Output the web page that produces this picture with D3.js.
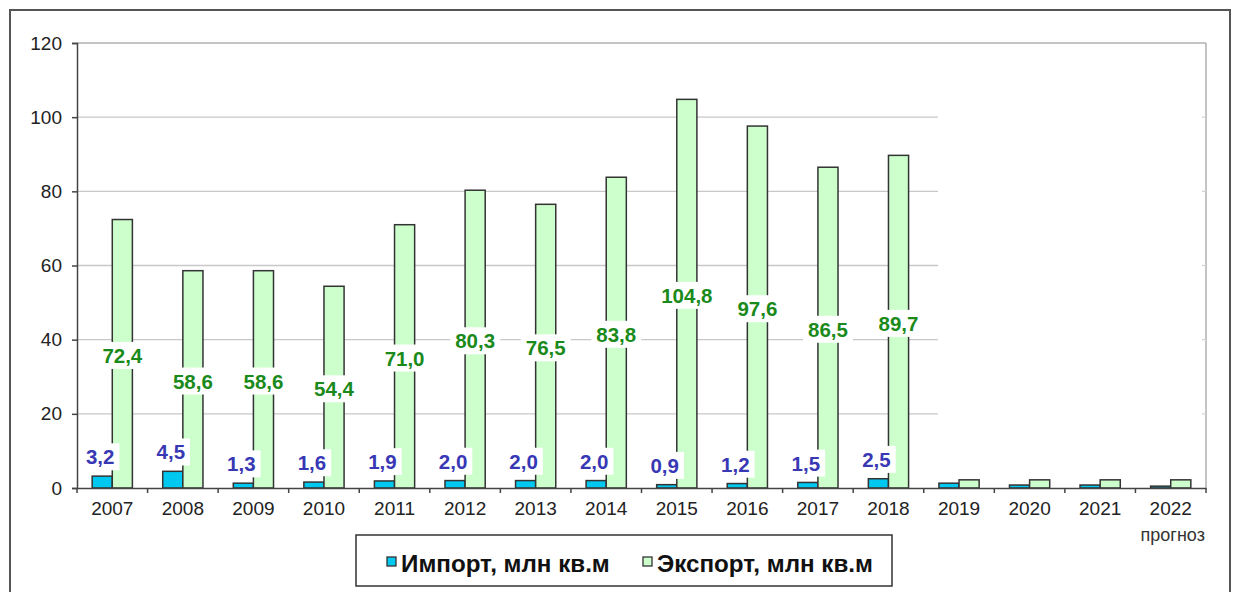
<!DOCTYPE html>
<html><head><meta charset="utf-8">
<script src="https://cdn.jsdelivr.net/npm/d3@7"></script>
<style>
body{margin:0;background:#fff;}
svg{display:block;font-family:"Liberation Sans",Arial,sans-serif;}
</style></head>
<body>
<svg id="chart" width="1237" height="592"></svg>
<script>
const categories = ["2007","2008","2009","2010","2011","2012","2013","2014","2015","2016","2017","2018","2019","2020","2021","2022"];
const importValues = [3.2,4.5,1.3,1.6,1.9,2.0,2.0,2.0,0.9,1.2,1.5,2.5,1.3,0.8,0.8,0.5];
const exportValues = [72.4,58.6,58.6,54.4,71.0,80.3,76.5,83.8,104.8,97.6,86.5,89.7,2.2,2.2,2.2,2.2];
const labelledCategories = ["2007","2008","2009","2010","2011","2012","2013","2014","2015","2016","2017","2018"];
const yTicks = [0,20,40,60,80,100,120];
const seriesNames = ["Импорт, млн кв.м","Экспорт, млн кв.м"];
const forecastNote = "прогноз";

const svg = d3.select("#chart");
const pLeft = 77, pRight = 1206, pTop = 43, pBottom = 488;

const x = d3.scaleBand().domain(categories).range([pLeft, pRight]).paddingInner(0.43).paddingOuter(0.215);
const x1 = d3.scaleBand().domain(["imp","exp"]).range([0, x.bandwidth()]);
const y = d3.scaleLinear().domain([0,120]).range([pBottom, pTop]);

// outer frame
svg.append("rect").attr("x",10).attr("y",10).attr("width",1220).attr("height",600)
  .attr("fill","none").attr("stroke","#555").attr("stroke-width",2);

// gridlines (truncated as in reference)
const gridEnd = 938;
svg.append("g").selectAll("line").data(yTicks.filter(t=>t>0 && t<120)).join("line")
  .attr("x1",pLeft).attr("x2",gridEnd).attr("y1",d=>y(d)).attr("y2",d=>y(d))
  .attr("stroke","#c8c8c8").attr("stroke-width",1.3);
svg.append("line").attr("x1",pLeft).attr("x2",pRight).attr("y1",y(120)).attr("y2",y(120))
  .attr("stroke","#b0b0b0").attr("stroke-width",1.5);
svg.append("line").attr("x1",pRight).attr("x2",pRight).attr("y1",y(120)).attr("y2",pBottom)
  .attr("stroke","#b0b0b0").attr("stroke-width",1.5);
svg.append("g").selectAll("line").data(yTicks.filter(t=>t>0 && t<120)).join("line")
  .attr("x1",pRight-4).attr("x2",pRight).attr("y1",d=>y(d)).attr("y2",d=>y(d))
  .attr("stroke","#d0d0d0").attr("stroke-width",1.2);

// bars
const g = svg.append("g");
categories.forEach((c,i)=>{
  g.append("rect").attr("x",x(c)+x1("imp")).attr("y",y(importValues[i]))
    .attr("width",x1.bandwidth()).attr("height",y(0)-y(importValues[i]))
    .attr("fill","#00c8f0").attr("stroke","#333").attr("stroke-width",1.5);
  g.append("rect").attr("x",x(c)+x1("exp")).attr("y",y(exportValues[i]))
    .attr("width",x1.bandwidth()).attr("height",y(0)-y(exportValues[i]))
    .attr("fill","#ccffcc").attr("stroke","#333").attr("stroke-width",1.5);
});

// axes
const yAxis = d3.axisLeft(y).tickValues(yTicks).tickSize(5).tickPadding(10).tickFormat(d3.format("d"));
const ya = svg.append("g").attr("transform",`translate(${pLeft},0)`).call(yAxis);
ya.select(".domain").attr("stroke","#444").attr("stroke-width",1.5);
ya.selectAll(".tick line").attr("stroke","#444").attr("stroke-width",1.5);
ya.selectAll("text").attr("font-size",19).attr("fill","#222").attr("font-family","Liberation Sans, Arial, sans-serif");

const xAxis = d3.axisBottom(x).tickSize(0).tickPadding(14);
const xa = svg.append("g").attr("transform",`translate(0,${pBottom})`).call(xAxis);
xa.select(".domain").attr("stroke","#444").attr("stroke-width",1.5);
xa.selectAll("text").attr("font-size",19).attr("fill","#222").attr("font-family","Liberation Sans, Arial, sans-serif");
const bounds = categories.map(c=>x(c)-x.step()*x.paddingInner()/2).concat([pRight]);
svg.append("g").selectAll("line").data(bounds).join("line")
  .attr("x1",d=>d).attr("x2",d=>d).attr("y1",pBottom).attr("y2",pBottom+5)
  .attr("stroke","#444").attr("stroke-width",1.5);
svg.append("text").attr("x",x("2022")+x.bandwidth()/2+2).attr("y",541)
  .attr("text-anchor","middle").attr("font-size",18).attr("fill","#333").text(forecastNote);

// value labels
function addLabel(cx, cy, txt, color){
  const t = svg.append("text").attr("x",cx).attr("y",cy).attr("dy","0.35em")
    .attr("text-anchor","middle").attr("font-size",20.5).attr("font-weight","bold")
    .attr("fill",color).text(txt);
  const b = t.node().getBBox();
  svg.insert("rect", () => t.node()).attr("x",b.x-5).attr("y",b.y-2)
    .attr("width",b.width+10).attr("height",b.height+4).attr("fill","#fff");
}
const fmt = v => d3.format(".1f")(v).replace(".",",");
categories.forEach((c,i)=>{
  if(!labelledCategories.includes(c)) return;
  addLabel(x(c)+x1("imp")+x1.bandwidth()/2 - 2, y(importValues[i]) - 19, fmt(importValues[i]), "#3838b4");
  addLabel(x(c)+x1("exp")+x1.bandwidth()/2, y(exportValues[i]/2) + 2, fmt(exportValues[i]), "#1a8a1a");
});

// legend
const lg = svg.append("g");
lg.append("rect").attr("x",356).attr("y",535).attr("width",536).attr("height",51)
  .attr("fill","#fff").attr("stroke","#333").attr("stroke-width",1.5);
const items = [{name:seriesNames[0],fill:"#00c8f0",sx:387,tx:401},{name:seriesNames[1],fill:"#ccffcc",sx:643,tx:657}];
items.forEach(it=>{
  lg.append("rect").attr("x",it.sx).attr("y",557).attr("width",9).attr("height",9)
    .attr("fill",it.fill).attr("stroke","#333").attr("stroke-width",1.3);
  lg.append("text").attr("x",it.tx).attr("y",572).attr("font-size",24.2).attr("font-weight","bold")
    .attr("fill","#111").text(it.name);
});
</script>
</body></html>
